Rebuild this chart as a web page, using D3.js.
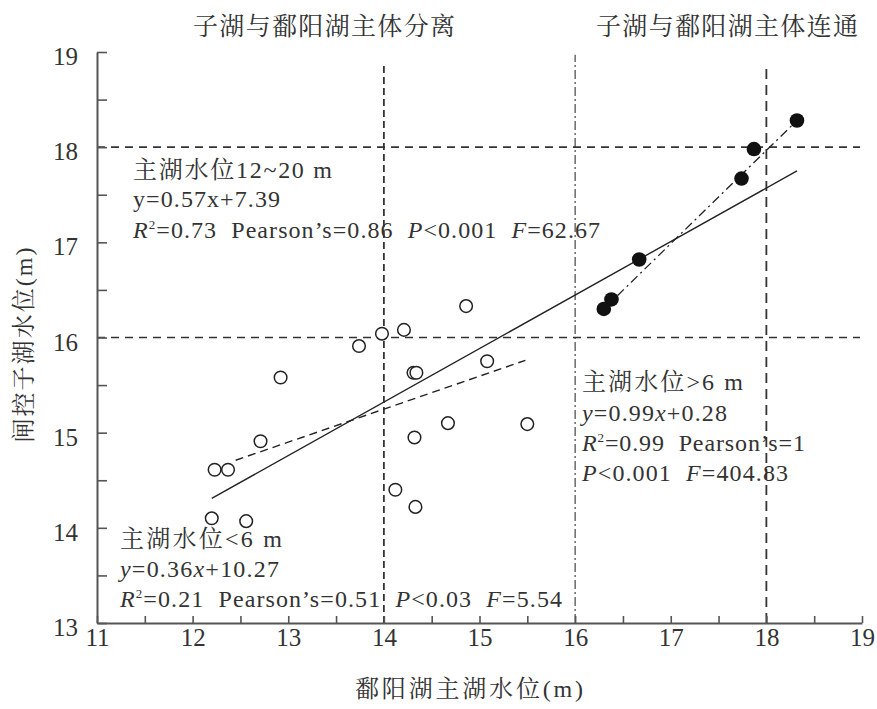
<!DOCTYPE html>
<html>
<head>
<meta charset="utf-8">
<script src="https://cdn.jsdelivr.net/npm/d3@7"></script>
<style>
  body { margin: 0; background: #fff; }
</style>
</head>
<body>
<div id="chart"></div>
<script>
// x: 鄱阳湖主湖水位, y: 闸控子湖水位
const lowX = [14.86, 13.98, 14.21, 13.74, 12.92, 14.31, 14.34, 15.08, 14.67, 15.50, 14.32, 12.71, 12.23, 12.37, 14.12, 14.33, 12.20, 12.56];
const lowY = [16.33, 16.04, 16.08, 15.91, 15.58, 15.63, 15.63, 15.75, 15.10, 15.09, 14.95, 14.91, 14.61, 14.61, 14.40, 14.22, 14.10, 14.07];
const highX = [18.32, 17.87, 17.74, 16.67, 16.38, 16.30];
const highY = [18.28, 17.98, 17.67, 16.82, 16.40, 16.30];

// fitted lines as drawn (ends)
const fitAll = [[12.20, 14.31], [18.32, 17.75]];
const fitLow = [[12.45, 14.71], [15.48, 15.76]];
const fitHigh = [[16.30, 16.30], [18.32, 18.28]];

const xTicks = d3.range(11, 19.01, 0.5);
const yTicks = d3.range(13, 19.01, 0.5);
const hLines = [16, 18];
const vLines = [14, 16, 18];

const topLabels = ["子湖与鄱阳湖主体分离", "子湖与鄱阳湖主体连通"];

// annotation lines: [text, style] segments
const annoAll = [
  [["主湖水位12~20 m"]],
  [["y=0.57x+7.39"]],
  [["R", "i"], ["2", "sup"], ["=0.73  Pearson’s=0.86  "], ["P", "i"], ["<0.001  "], ["F", "i"], ["=62.67"]]
];
const annoLow = [
  [["主湖水位<6 m"]],
  [["y", "i"], ["=0.36"], ["x", "i"], ["+10.27"]],
  [["R", "i"], ["2", "sup"], ["=0.21  Pearson’s=0.51  "], ["P", "i"], ["<0.03  "], ["F", "i"], ["=5.54"]]
];
const annoHigh = [
  [["主湖水位>6 m"]],
  [["y", "i"], ["=0.99"], ["x", "i"], ["+0.28"]],
  [["R", "i"], ["2", "sup"], ["=0.99  Pearson’s=1"]],
  [["P", "i"], ["<0.001  "], ["F", "i"], ["=404.83"]]
];

const width = 877;
const height = 709;
const latinFont = '"Liberation Serif"';
const cjkFont = '"Noto Serif CJK SC"';
const textColor = "#333";
const cjkRe = /([\u3000-\u9fff\uff00-\uffef]+)/;

// split a string into CJK / Latin runs, each in its own tspan
function addRuns(sel, str) {
  str.split(cjkRe).filter(s => s.length).forEach(s => {
    sel.append("tspan")
      .style("font-family", cjkRe.test(s) ? cjkFont : latinFont)
      .text(s);
  });
  return sel;
}

const svg = d3.select("#chart")
  .append("svg")
  .attr("width", width)
  .attr("height", height);

const xScale = d3.scaleLinear().domain([11, 19]).range([97, 862]);
const yScale = d3.scaleLinear().domain([13, 19]).range([623, 52]);

const axisColor = "#555";
const inkColor = "#222";

// reference lines
svg.append("g")
  .selectAll("line")
  .data(hLines)
  .join("line")
  .attr("x1", xScale(11))
  .attr("x2", xScale(18.98))
  .attr("y1", d => yScale(d))
  .attr("y2", d => yScale(d))
  .attr("stroke", "#333")
  .attr("stroke-width", 1.6)
  .attr("stroke-dasharray", "8,6");

const vStyle = {
  14: { dash: "7,4", top: 18.88, w: 1.8 },
  16: { dash: "9,3,2,3", top: 18.97, w: 1.1 },
  18: { dash: "10,6", top: 18.88, w: 1.8 }
};

svg.append("g")
  .selectAll("line")
  .data(vLines)
  .join("line")
  .attr("x1", d => xScale(d))
  .attr("x2", d => xScale(d))
  .attr("y1", yScale(13))
  .attr("y2", d => yScale(vStyle[d].top))
  .attr("stroke", "#333")
  .attr("stroke-width", d => vStyle[d].w)
  .attr("stroke-dasharray", d => vStyle[d].dash);

// axes
const xAxis = d3.axisBottom(xScale)
  .tickValues(xTicks)
  .tickSizeInner(-7)
  .tickSizeOuter(0)
  .tickPadding(20)
  .tickFormat(d => Number.isInteger(d) ? d : "");

const yAxis = d3.axisLeft(yScale)
  .tickValues(yTicks)
  .tickSizeInner(-10)
  .tickSizeOuter(0)
  .tickPadding(19)
  .tickFormat(d => Number.isInteger(d) ? d : "");

const xAxisGroup = svg.append("g")
  .attr("transform", `translate(0, ${yScale(13)})`)
  .call(xAxis);

const yAxisGroup = svg.append("g")
  .attr("transform", `translate(${xScale(11)}, 0)`)
  .call(yAxis);

[xAxisGroup, yAxisGroup].forEach(g => {
  g.attr("font-family", null).attr("font-size", null);
  g.select(".domain").attr("stroke", axisColor).attr("stroke-width", 2);
  g.selectAll(".tick line").attr("stroke", axisColor).attr("stroke-width", 1.6);
  g.selectAll(".tick text")
    .attr("fill", textColor)
    .style("font-family", latinFont)
    .style("font-size", "25px");
});
xAxisGroup.selectAll(".tick text").attr("dy", "0.1em");
yAxisGroup.selectAll(".tick text").attr("dy", "0.5em");

// fitted lines
const line = d3.line().x(d => xScale(d[0])).y(d => yScale(d[1]));

svg.append("path")
  .attr("d", line(fitAll))
  .attr("fill", "none")
  .attr("stroke", inkColor)
  .attr("stroke-width", 1.4);

svg.append("path")
  .attr("d", line(fitLow))
  .attr("fill", "none")
  .attr("stroke", inkColor)
  .attr("stroke-width", 1.4)
  .attr("stroke-dasharray", "8,5");

svg.append("path")
  .attr("d", line(fitHigh))
  .attr("fill", "none")
  .attr("stroke", inkColor)
  .attr("stroke-width", 1.3)
  .attr("stroke-dasharray", "9,4,2,4");

// points
svg.append("g")
  .selectAll("circle")
  .data(lowX.map((x, i) => [x, lowY[i]]))
  .join("circle")
  .attr("cx", d => xScale(d[0]))
  .attr("cy", d => yScale(d[1]))
  .attr("r", 6.3)
  .attr("fill", "#fff")
  .attr("stroke", inkColor)
  .attr("stroke-width", 1.5);

svg.append("g")
  .selectAll("circle")
  .data(highX.map((x, i) => [x, highY[i]]))
  .join("circle")
  .attr("cx", d => xScale(d[0]))
  .attr("cy", d => yScale(d[1]))
  .attr("r", 7.3)
  .attr("fill", "#111");

// titles
topLabels.forEach((d, i) => {
  const t = svg.append("text")
    .attr("x", i === 0 ? 324 : 727)
    .attr("y", 35)
    .attr("text-anchor", "middle")
    .style("font-size", "25px")
    .attr("fill", textColor)
    .attr("textLength", 262)
    .attr("lengthAdjust", "spacing");
  addRuns(t, d);
});

addRuns(svg.append("text")
  .attr("x", 469)
  .attr("y", 697)
  .attr("text-anchor", "middle")
  .style("font-size", "24px")
  .attr("fill", textColor)
  .attr("textLength", 228)
  .attr("lengthAdjust", "spacing"), "鄱阳湖主湖水位(m)");

addRuns(svg.append("text")
  .attr("transform", "rotate(-90)")
  .attr("x", -345)
  .attr("y", 32)
  .attr("text-anchor", "middle")
  .style("font-size", "24px")
  .attr("fill", textColor)
  .attr("textLength", 195)
  .attr("lengthAdjust", "spacing"), "闸控子湖水位(m)");

// annotations
function drawAnno(lines, x0, baselines, widths) {
  lines.forEach((segs, i) => {
    const t = svg.append("text")
      .attr("x", x0)
      .attr("y", baselines[i])
      .style("font-size", "24px")
      .attr("fill", textColor)
      .style("white-space", "pre")
      .attr("textLength", widths[i])
      .attr("lengthAdjust", "spacing");
    segs.forEach(([s, kind]) => {
      if (!kind) { addRuns(t, s); return; }
      const ts = t.append("tspan").style("font-family", latinFont).text(s);
      if (kind === "i") ts.style("font-style", "italic");
      if (kind === "sup") ts.style("font-size", "13px").attr("baseline-shift", "70%");
    });
  });
}

drawAnno(annoAll, 133, [178, 207, 238], [199, 147, 467]);
drawAnno(annoLow, 120, [547, 577, 607], [162, 159, 442]);
drawAnno(annoHigh, 582, [390, 421, 451, 481], [161, 145, 223, 206]);
</script>
</body>
</html>
